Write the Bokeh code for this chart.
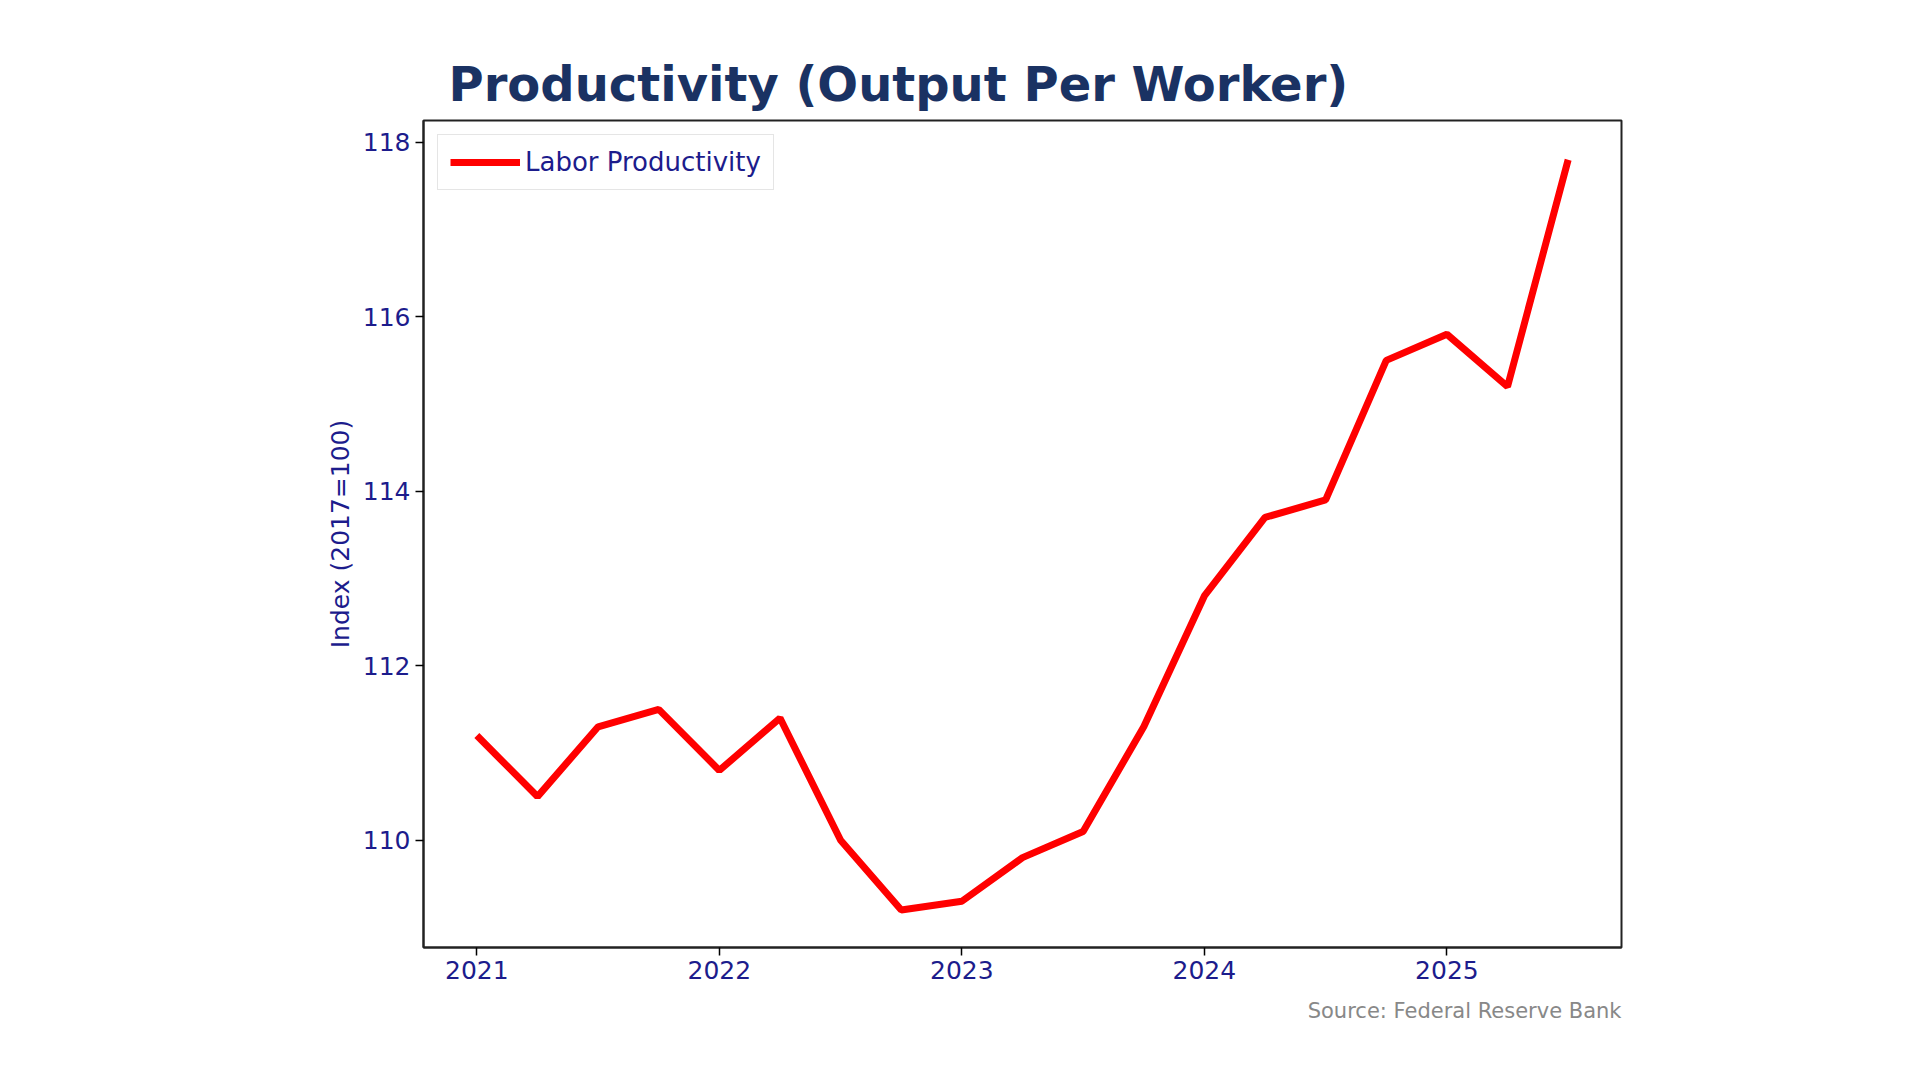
from bokeh.plotting import figure
from bokeh.models import Range1d, FixedTicker, Legend, LegendItem, Title
from bokeh.embed import file_html
from bokeh.resources import INLINE

years = [2021.0, 2021.25, 2021.5, 2021.75, 2022.0, 2022.25, 2022.5, 2022.75, 2023.0, 2023.25,
         2023.5, 2023.75, 2024.0, 2024.25, 2024.5, 2024.75, 2025.0, 2025.25, 2025.5]
productivity = [111.2, 110.5, 111.3, 111.5, 110.8, 111.4, 110.0, 109.2, 109.3, 109.8,
                110.1, 111.3, 112.8, 113.7, 113.9, 115.5, 115.8, 115.2, 117.8]
x_ticks = [2021, 2022, 2023, 2024, 2025]
y_ticks = [110, 112, 114, 116, 118]

FONT = "DejaVu Sans"
TICK_C = "#1c1c8c"
W, H = 1904, 1062
p = figure(width=W, height=H, output_backend="svg", toolbar_location=None,
           x_range=Range1d(2020.78, 2025.72), y_range=Range1d(108.77, 118.25),
           min_border_left=423, min_border_right=283, min_border_top=120, min_border_bottom=115)
p.grid.visible = False
p.outline_line_color = "#222222"
p.outline_line_width = 2
for ax in (p.xaxis[0], p.yaxis[0]):
    ax.major_label_text_font = FONT
    ax.major_label_text_font_size = "25px"
    ax.major_label_text_color = TICK_C
    ax.minor_tick_line_color = None
    ax.axis_line_color = "#222222"
    ax.axis_line_width = 2
    ax.major_tick_line_width = 1.5
    ax.major_tick_in = 0
    ax.major_tick_out = 8
p.xaxis.ticker = FixedTicker(ticks=x_ticks)
p.yaxis.ticker = FixedTicker(ticks=y_ticks)
p.yaxis.axis_label = "Index (2017=100)"
p.yaxis.axis_label_text_font = FONT
p.yaxis.axis_label_text_font_style = "normal"
p.yaxis.axis_label_text_font_size = "25px"
p.yaxis.axis_label_text_color = TICK_C

r = p.line(years, productivity, line_color="#ff0000", line_width=7)
leg = Legend(items=[LegendItem(label="Labor Productivity", renderers=[r])], location="top_left",
             label_text_font=FONT, label_text_font_size="26px", label_text_color=TICK_C,
             border_line_color="#cccccc", border_line_width=1.5, glyph_width=70,
             margin=14, padding=12, spacing=0)
p.add_layout(leg)

p.title = Title(text="Productivity (Output Per Worker)", text_font=FONT, text_font_style="bold",
                text_font_size="48px", text_color="#1a3263", align="left", offset=25, standoff=18)
p.add_layout(Title(text="Source: Federal Reserve Bank", text_font=FONT, text_font_style="normal",
                   text_font_size="21px", text_color="#888888", align="right", standoff=30), "below")

open("out.html", "w").write(file_html(p, INLINE))
